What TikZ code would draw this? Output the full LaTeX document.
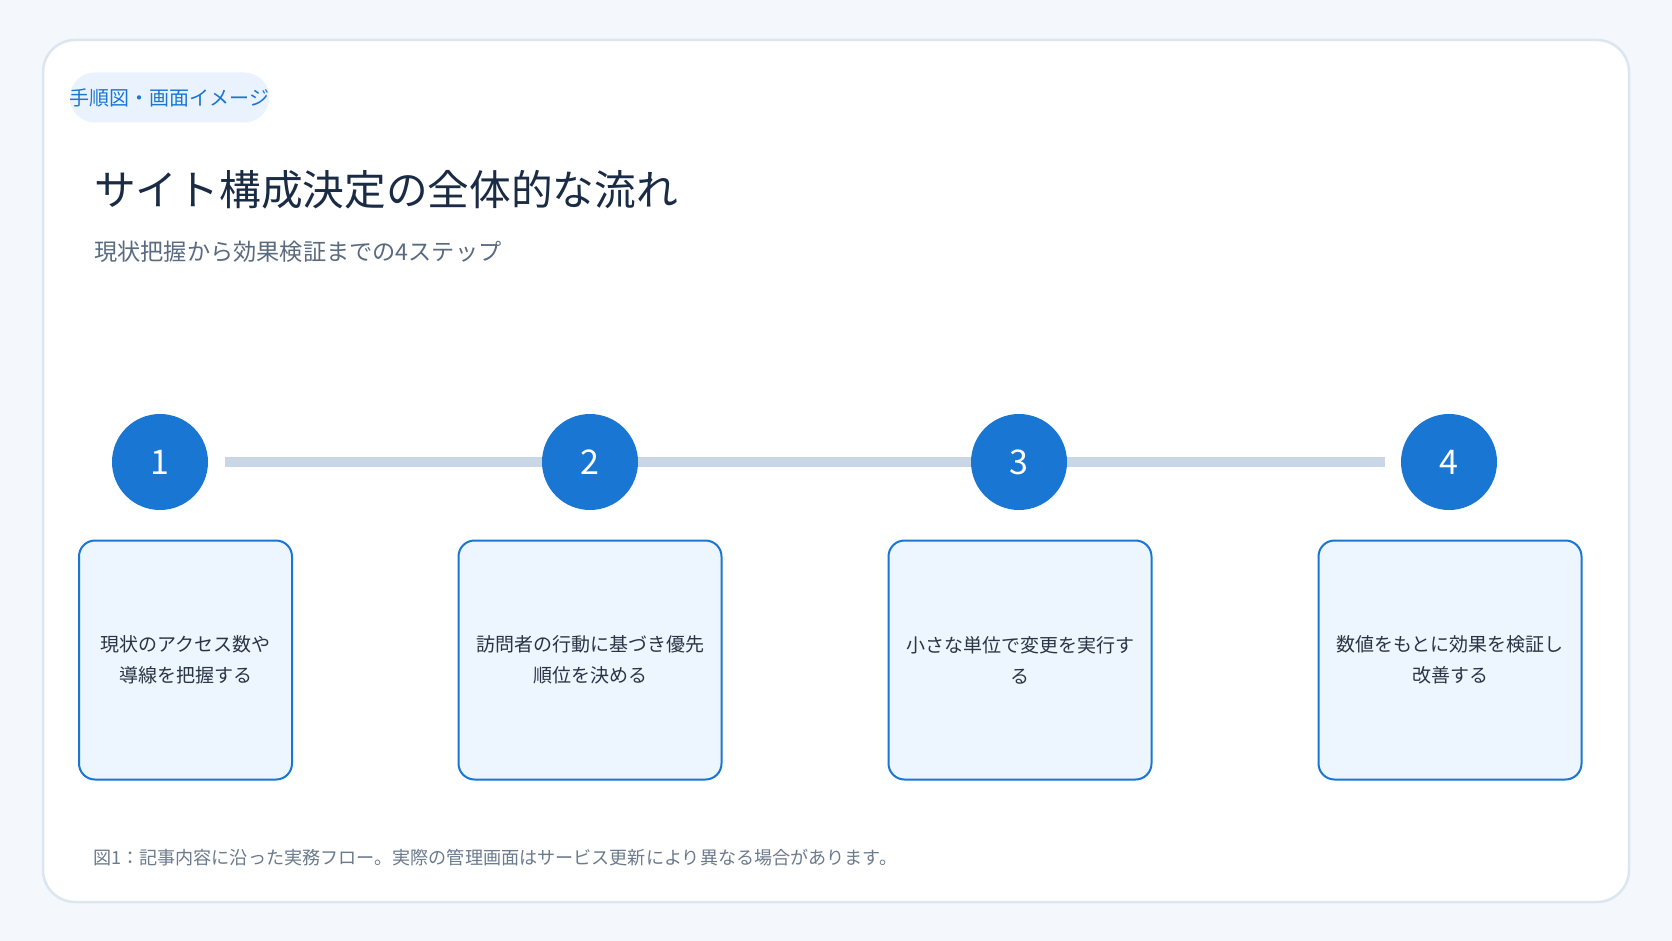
\documentclass[tikz,border=0pt]{standalone}
\usepackage{fontspec}
\setmainfont{Noto Sans CJK JP}
\usetikzlibrary{backgrounds}
\definecolor{page_bg}{RGB}{244, 248, 252}
\definecolor{card_line}{RGB}{220, 230, 240}
\definecolor{step_blue}{RGB}{25, 118, 210}
\definecolor{step_fill}{RGB}{237, 245, 254}
\definecolor{tag_fill}{RGB}{234, 243, 253}
\definecolor{track_grey}{RGB}{200, 214, 229}
\definecolor{title_ink}{RGB}{26, 43, 69}
\definecolor{sub_ink}{RGB}{90, 107, 128}
\definecolor{body_ink}{RGB}{42, 52, 69}
\definecolor{note_ink}{RGB}{107, 122, 141}
\tikzstyle{sn}=[circle,fill=step_blue,text=white,inner sep=0pt,
  minimum size=96pt,font=\fontsize{34}{40}\selectfont]
\tikzstyle{bx}=[rectangle,rounded corners=16pt,fill=step_fill,draw=step_blue,
  line width=2pt,minimum height=239pt,align=center,text=body_ink,
  font=\fontsize{19}{31}\selectfont]
\tikzstyle{tx}=[anchor=west,inner sep=0pt]

\begin{document}
\begin{tikzpicture}[x=1pt,y=-1pt]
            \begin{scope}[on background layer]
            \fill [page_bg] (0, 0) rectangle (1672, 941);
            \node [rectangle,rounded corners=32pt,fill=white,draw=card_line,line width=2.5pt,
              minimum width=1586pt,minimum height=862pt] (card) at (836, 471) {};
            \end{scope}
            \useasboundingbox (0, 0) rectangle (1672, 941);
            \node [rectangle,rounded corners=25pt,fill=tag_fill,text=step_blue,inner xsep=0pt,
              minimum width=194pt,minimum height=50pt,font=\fontsize{20}{22}\selectfont] (tag) at (169.5, 97.5) {手順図・画面イメージ};
            \node [style=tx,text=title_ink,font=\fontsize{41.7}{48}\selectfont] (title) at (94, 190) {サイト構成決定の全体的な流れ};
            \node [style=tx,text=sub_ink,font=\fontsize{23.2}{28}\selectfont] (sub) at (94, 252) {現状把握から効果検証までの4ステップ};
            \node [style=sn] (1) at (160, 462) {1};
            \node [style=sn] (2) at (590, 462) {2};
            \node [style=sn] (3) at (1019, 462) {3};
            \node [style=sn] (4) at (1449, 462) {4};
            \node [style=bx,minimum width=213pt] (11) at (185.5, 660) {現状のアクセス数や\\導線を把握する};
            \node [style=bx,minimum width=263pt] (22) at (590, 660) {訪問者の行動に基づき優先\\順位を決める};
            \node [style=bx,minimum width=263pt] (33) at (1020, 660) {小さな単位で変更を実行す\\る};
            \node [style=bx,minimum width=263pt] (44) at (1450, 660) {数値をもとに効果を検証し\\改善する};
            \node [style=tx,text=note_ink,font=\fontsize{18.1}{20}\selectfont] (note) at (93, 858) {図1：記事内容に沿った実務フロー。実際の管理画面はサービス更新により異なる場合があります。};
            \begin{scope}[on background layer]
            \draw [track_grey,line width=9.6pt] ([xshift=17pt]1.east) to ([xshift=-16pt]4.west);
            \end{scope}
    \end{tikzpicture}
\end{document}
